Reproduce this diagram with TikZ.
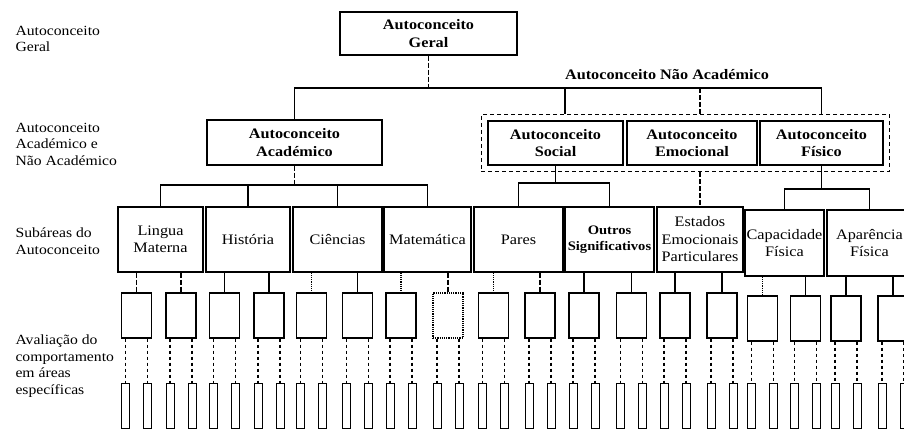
\documentclass[tikz,border=0pt]{standalone}
\usepackage{fontspec}
\setmainfont{Liberation Serif}[FakeStretch=1.12]
\usepackage{tikz}
\usetikzlibrary{positioning, fit}

\begin{document}
\begin{tikzpicture}[
    x=1pt, y=-1pt,
    every node/.style={font=\fontsize{14.5}{17.5}\selectfont},
    topbox/.style={
        rectangle,
        draw,
        line width=1.2pt,
        align=center,
        inner sep=0pt,
        font=\fontsize{14.5}{17.5}\selectfont\bfseries
    },
    subbox/.style={
        rectangle,
        draw,
        line width=1.2pt,
        align=center,
        inner sep=0pt,
        minimum height=65pt,
        font=\fontsize{14.5}{17.5}\selectfont
    },
    midbox/.style={
        rectangle,
        draw,
        line width=1.2pt,
        minimum width=30pt,
        minimum height=45pt,
        inner sep=0pt
    },
    midboxdot/.style={
        midbox,
        densely dotted
    },
    leafbox/.style={
        rectangle,
        draw,
        line width=1pt,
        minimum width=8pt,
        minimum height=45pt,
        inner sep=0pt
    },
    grupobox/.style={
        rectangle,
        draw,
        line width=1.4pt,
        dash pattern=on 4pt off 3pt,
        inner sep=6pt
    },
    sidelabel/.style={
        anchor=west,
        align=left,
        font=\fontsize{14}{16.5}\selectfont
    },
    link/.style={line width=1.2pt},
    dlink/.style={line width=1.2pt, dash pattern=on 5pt off 2pt},
    tlink/.style={line width=1.2pt, densely dotted},
    dotlink/.style={line width=1.4pt, dash pattern=on 3pt off 3pt}
]
\useasboundingbox (0,0) rectangle (904,430);
\clip (0,0) rectangle (904,430);

% Side labels
\node (lgeral) [sidelabel] at (12,39) {Autoconceito\\Geral};
\node (lnivel) [sidelabel] at (12,144) {Autoconceito\\Académico e\\Não Académico};
\node (lsub) [sidelabel] at (12,241) {Subáreas do\\Autoconceito};
\node (laval) [sidelabel] at (12,366) {Avaliação do\\comportamento\\em áreas\\específicas};

% Nodes
\node (geral) [topbox, minimum width=177pt, minimum height=43pt] at (428.5,33.5) {Autoconceito\\Geral};
\node (naolabel) [font=\fontsize{14.5}{17.5}\selectfont\bfseries] at (667,75) {Autoconceito Não Académico};

\node (academico) [topbox, minimum width=175pt, minimum height=45pt] at (294.5,142.5) {Autoconceito\\Académico};
\node (social) [topbox, minimum width=135pt, minimum height=44pt] at (555.5,143) {Autoconceito\\Social};
\node (emocional) [topbox, minimum width=130pt, minimum height=44pt] at (692,143) {Autoconceito\\Emocional};
\node (fisico) [topbox, minimum width=123pt, minimum height=44pt] at (821.5,143) {Autoconceito\\Físico};
\node (grupo) [grupobox, fit=(social)(emocional)(fisico)] {};

\node (lingua) [subbox, minimum width=85pt] at (160.5,239.5) {Lingua\\Materna};
\node (historia) [subbox, minimum width=84pt] at (248,239.5) {História};
\node (ciencias) [subbox, minimum width=89pt] at (337.5,239.5) {Ciências};
\node (matematica) [subbox, minimum width=87pt] at (427.5,239.5) {Matemática};
\node (pares) [subbox, minimum width=89pt] at (518.5,239.5) {Pares};
\node (outros) [subbox, minimum width=89pt, font=\fontsize{13}{16}\selectfont\bfseries] at (609.5,239.5) {Outros\\Significativos};
\node (estados) [subbox, minimum width=86pt] at (700,239.5) {Estados\\Emocionais\\Particulares};
\node (capacidade) [subbox, minimum width=79pt, minimum height=66pt] at (784.5,243) {Capacidade\\Física};
\node (aparencia) [subbox, minimum width=85pt, minimum height=66pt] at (869.5,243) {Aparência\\Física};

\coordinate (topbar) at (0,88);
\coordinate (acbar) at (0,185);
\coordinate (sobar) at (0,183);
\coordinate (fibar) at (0,189);
\coordinate (tapsocial) at (565,88);

% Connections
\draw [dlink] (geral.south) -- (geral.south |- topbar);
\draw [link] (academico.north) |- (fisico.north |- topbar) -- (fisico.north |- grupo.north);
\draw [link] (tapsocial) -- (tapsocial |- grupo.north);
\draw [dlink] (estados.north |- topbar) -- (estados.north |- grupo.north);

\draw [dlink] (academico.south) -- (academico.south |- acbar);
\draw [link] (lingua.north) |- (matematica.north |- acbar) -- (matematica.north);
\draw [link] (historia.north) -- (historia.north |- acbar);
\draw [link] (ciencias.north) -- (ciencias.north |- acbar);

\draw [link] (social.south) -- (social.south |- sobar);
\draw [link] (pares.north) |- (outros.north |- sobar) -- (outros.north);

\draw [dlink] (estados.north |- grupo.south) -- (estados.north);

\draw [link] (fisico.south) -- (fisico.south |- fibar);
\draw [link] (capacidade.north) |- (aparencia.north |- fibar) -- (aparencia.north);

% Evaluation boxes
\foreach \i/\x/\y/\p/\s/\b in {
    1/136.5/315.5/lingua/dlink/midbox, 2/181/315.5/lingua/dlink/midbox,
    3/224.5/315.5/historia/link/midbox, 4/269/315.5/historia/link/midbox,
    5/311.5/315.5/ciencias/tlink/midbox, 6/357.5/315.5/ciencias/link/midbox,
    7/401/315.5/matematica/tlink/midbox, 8/448/315.5/matematica/dlink/midboxdot,
    9/493.5/315.5/pares/tlink/midbox, 10/540/315.5/pares/dlink/midbox,
    11/584/315.5/outros/link/midbox, 12/631.5/315.5/outros/link/midbox,
    13/675/315.5/estados/link/midbox, 14/722/315.5/estados/link/midbox,
    15/762.5/318.5/capacidade/tlink/midbox, 16/805.5/318.5/capacidade/link/midbox,
    17/846/318.5/aparencia/link/midbox, 18/893/318.5/aparencia/link/midbox} {
    \node (m\i) [\b] at (\x,\y) {};
    \draw [\s] (m\i.north |- \p.south) -- (m\i.north);
    \node (la\i) [leafbox] at (\x-11,405.5) {};
    \node (lb\i) [leafbox] at (\x+11,405.5) {};
    \draw [dotlink] (la\i.north |- m\i.south) -- (la\i.north);
    \draw [dotlink] (lb\i.north |- m\i.south) -- (lb\i.north);
}

\end{tikzpicture}
\end{document}
